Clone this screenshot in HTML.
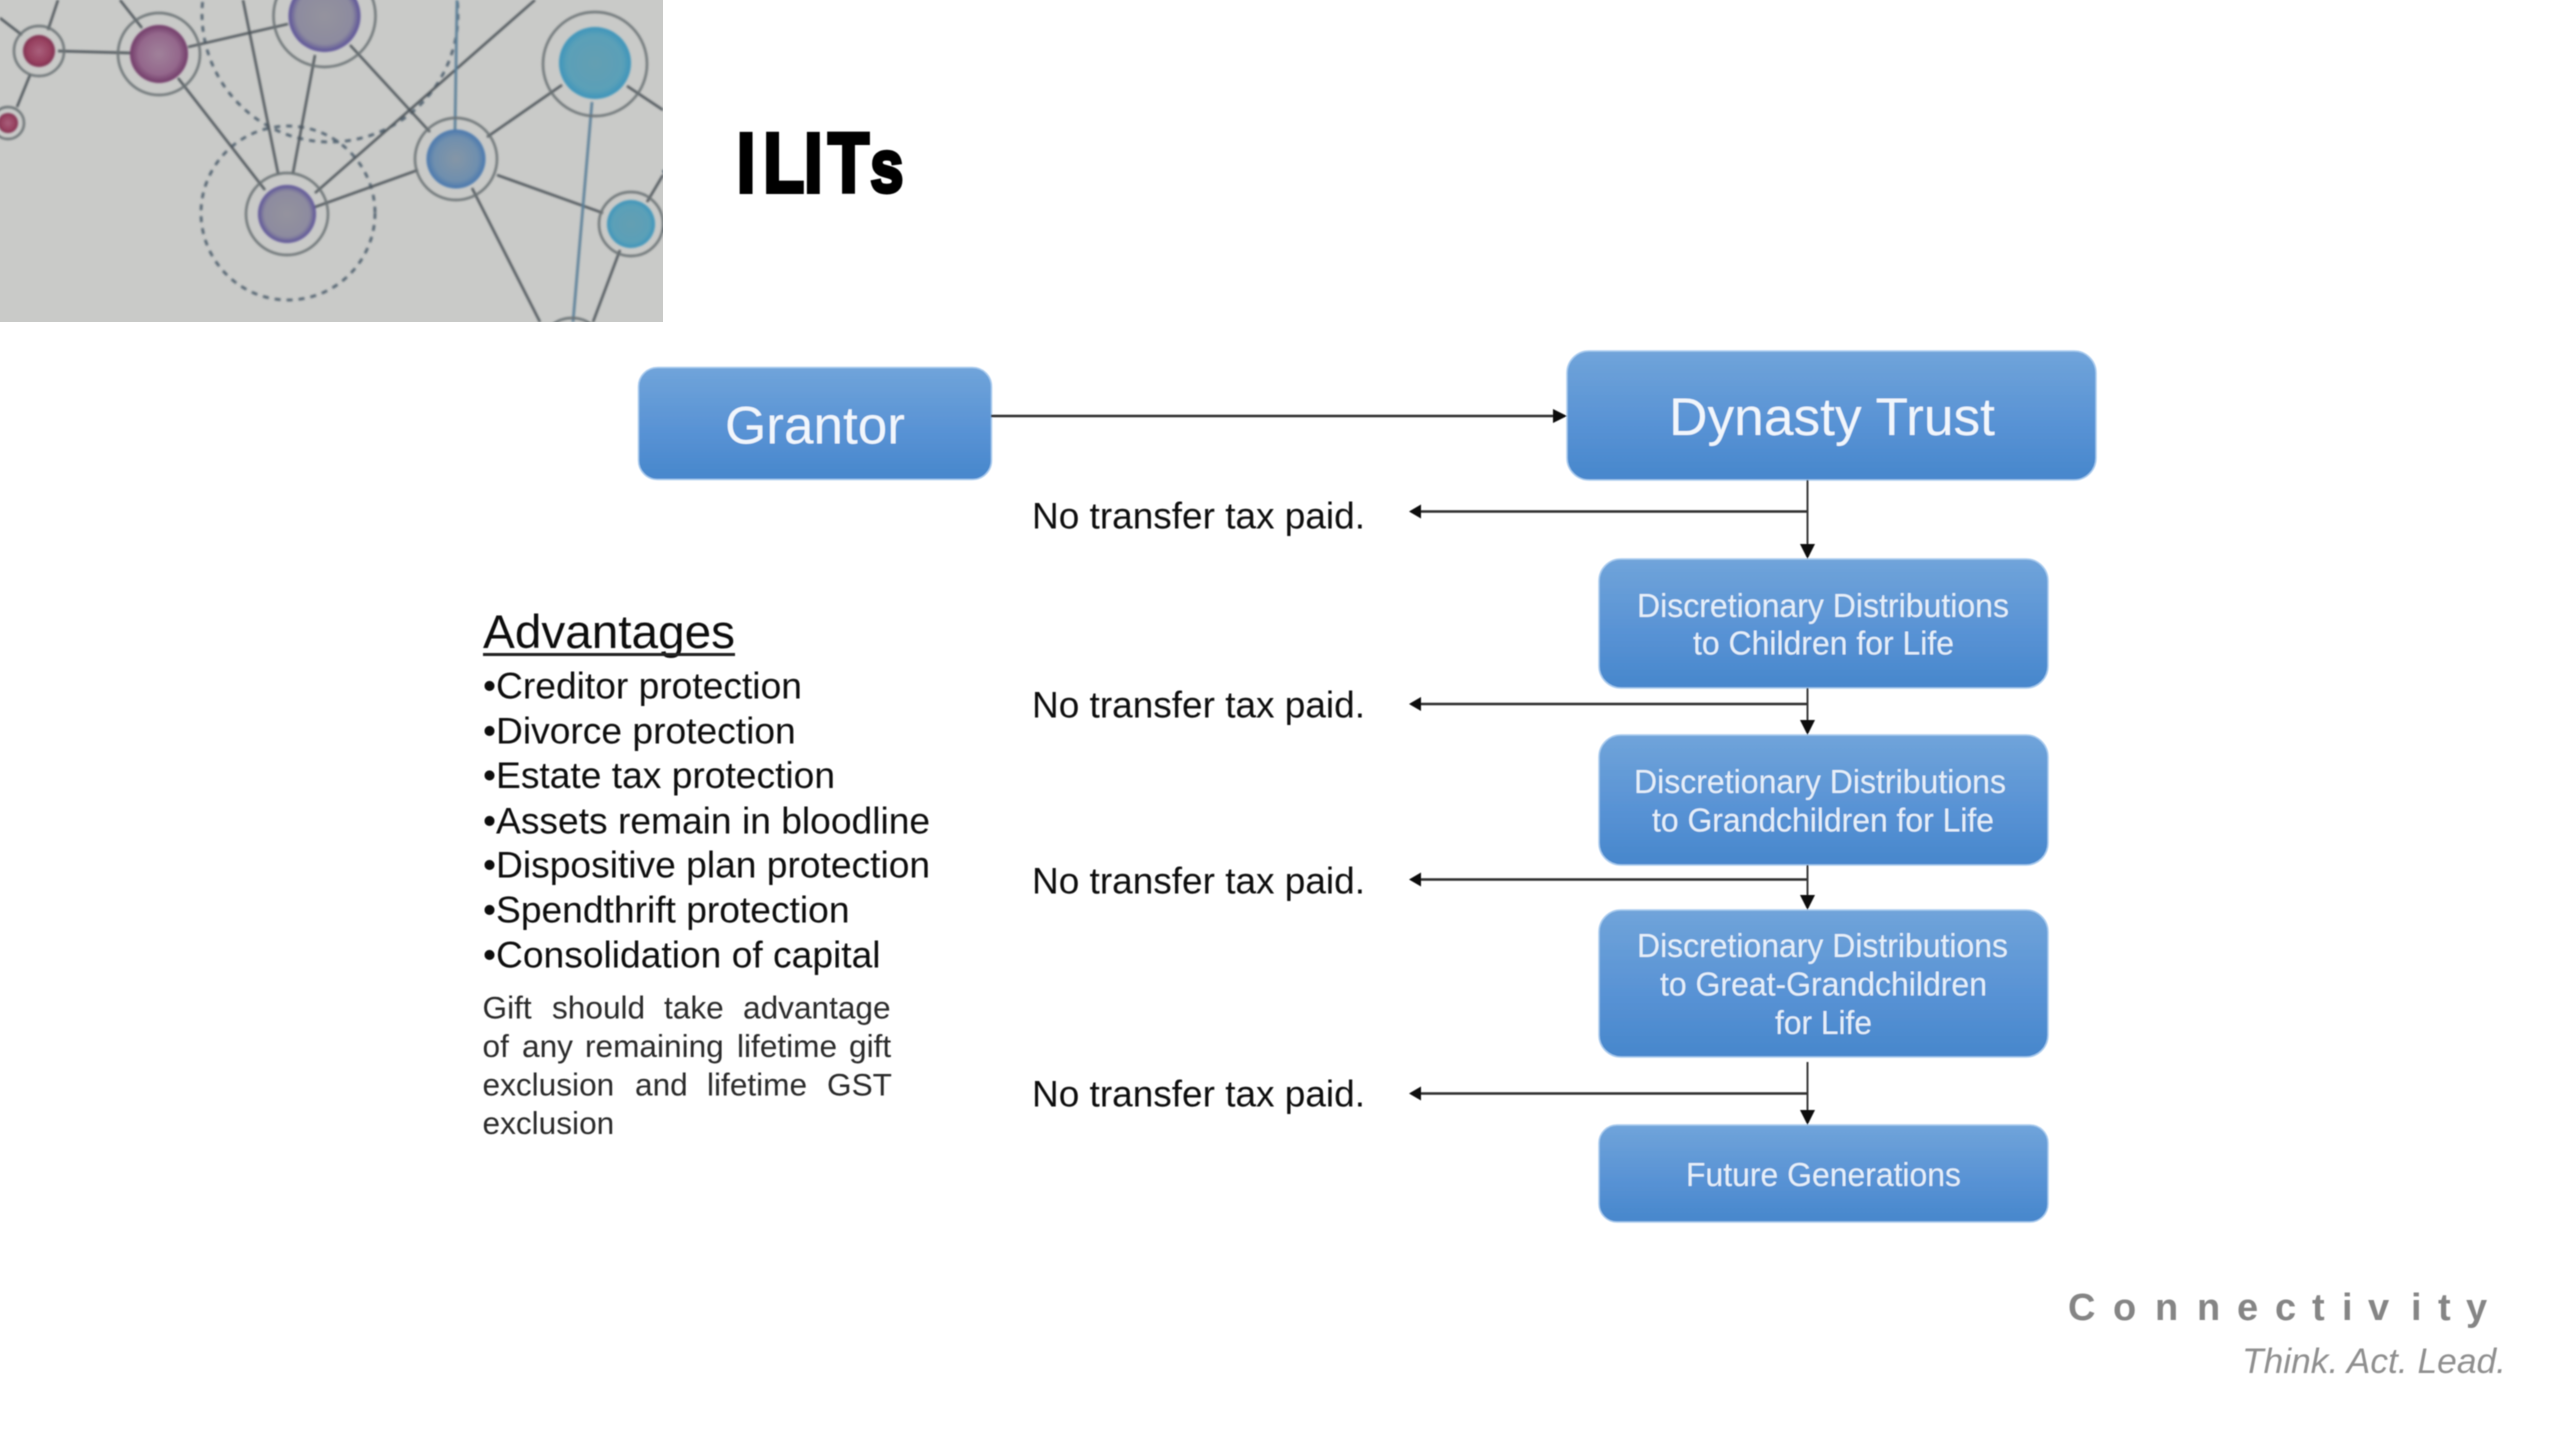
<!DOCTYPE html>
<html lang="en">
<head>
<meta charset="utf-8">
<title>ILITs</title>
<style>
html,body{margin:0;padding:0;background:#fff;width:2560px;height:1440px;overflow:hidden}
svg{display:block}
text{font-family:"Liberation Sans",Arial,sans-serif}
.box{fill:url(#bg);stroke:#a9cbee;stroke-width:1.5}
.w{fill:#e6eff9;font-size:33.5px}
.k{fill:#0c0c0c;font-size:37.2px}
.g{fill:#2a2a2a;font-size:31.6px}
.n{fill:#0c0c0c;font-size:36.8px}
.l{stroke:#2e2e2e;stroke-width:2.6;fill:none}
.v{stroke:#3a3a3a;stroke-width:2;fill:none}
.a{fill:#0a0a0a}
.c1{stroke:#4d545a;stroke-width:2.4;fill:none}
.c2{stroke:#5a7f98;stroke-width:2.6;fill:none}
.r{stroke:#6c7376;stroke-width:2.4;fill:none}
.d{stroke:#566673;stroke-width:2.8;fill:none;stroke-dasharray:6 6}
</style>
</head>
<body>
<svg xmlns="http://www.w3.org/2000/svg" width="2560" height="1440" viewBox="0 0 2560 1440">
<defs>
<linearGradient id="bg" x1="0" y1="0" x2="0" y2="1">
<stop offset="0" stop-color="#70a4da"/><stop offset="0.55" stop-color="#5993d5"/><stop offset="1" stop-color="#4787cc"/>
</linearGradient>
<radialGradient id="red"><stop offset="0" stop-color="#a9607c"/><stop offset="0.75" stop-color="#963f5e"/><stop offset="1" stop-color="#7d3050"/></radialGradient>
<radialGradient id="mauve"><stop offset="0" stop-color="#a0819a"/><stop offset="0.7" stop-color="#94688c"/><stop offset="1" stop-color="#713a68"/></radialGradient>
<radialGradient id="pur"><stop offset="0" stop-color="#94939e"/><stop offset="0.78" stop-color="#8d8b9f"/><stop offset="1" stop-color="#5a5098"/></radialGradient>
<radialGradient id="teal"><stop offset="0" stop-color="#649fb2"/><stop offset="0.78" stop-color="#5aa0b8"/><stop offset="1" stop-color="#3c94bb"/></radialGradient>
<radialGradient id="blue"><stop offset="0" stop-color="#8596a6"/><stop offset="0.75" stop-color="#6f8fae"/><stop offset="1" stop-color="#4877ae"/></radialGradient>
<clipPath id="pic"><rect x="0" y="0" width="663" height="322"/></clipPath>
<filter id="b1" x="-5%" y="-5%" width="110%" height="110%"><feGaussianBlur stdDeviation="1.1"/></filter>
<filter id="b2" x="-5%" y="-5%" width="110%" height="110%"><feGaussianBlur stdDeviation="0.55"/></filter>
</defs>

<!-- network picture -->
<g clip-path="url(#pic)">
<rect x="0" y="0" width="663" height="322" fill="#c9cac8"/>
<g filter="url(#b1)">
<circle class="d" cx="330" cy="14" r="128"/>
<circle class="d" cx="288" cy="213" r="87"/>
<path class="d" d="M663 170A60 60 0 0 1 663 232"/>
<path class="c1" d="M58 0L48 30M0 18L22 35M30 75L17 107M58 51L131 53M120 0L142 28M188 47L288 24M178 78L265 190M243 0L278 173M315 55L293 173M350 45L430 132M315 193L535 0M315 207L418 170M487 137L562 85M627 86L663 110M497 175L603 213M472 188L540 322M620 250L593 322M647 202L663 175"/>
<path class="c2" d="M457 0L455 130M592 102L573 322"/>
<circle class="r" cx="39" cy="51" r="25"/><circle cx="39" cy="51" r="16" fill="url(#red)"/>
<circle class="r" cx="8" cy="123" r="16" stroke-width="1.6"/><circle cx="8" cy="123" r="10" fill="url(#red)"/>
<circle class="r" cx="159" cy="54" r="41"/><circle cx="159" cy="54" r="29" fill="url(#mauve)"/>
<circle class="r" cx="324.500" cy="16" r="51"/><circle cx="324.500" cy="16" r="36" fill="url(#pur)"/>
<circle class="r" cx="595" cy="64" r="52"/><circle cx="595" cy="63" r="36" fill="url(#teal)"/>
<circle class="r" cx="456" cy="159" r="41"/><circle cx="456" cy="159" r="29.500" fill="url(#blue)"/>
<circle class="r" cx="287" cy="214" r="41"/><circle cx="287" cy="214" r="29" fill="url(#pur)"/>
<circle class="r" cx="631" cy="224" r="32"/><circle cx="631" cy="224" r="24" fill="url(#teal)"/>
<circle class="r" cx="572" cy="350" r="32"/>
</g>
</g>

<g filter="url(#b2)">
<!-- title -->
<text transform="scale(.8,1)" y="192" font-size="84" font-weight="700" fill="#000" stroke="#000" stroke-width="4"><tspan x="921 954 1005 1035">ILIT</tspan><tspan x="1088" font-size="74">s</tspan></text>

<!-- boxes -->
<rect class="box" x="638.500" y="367.500" width="353" height="112" rx="19"/>
<rect class="box" x="1567" y="351" width="529" height="129" rx="22"/>
<rect class="box" x="1599" y="559" width="449" height="129" rx="22"/>
<rect class="box" x="1599" y="735" width="449" height="130" rx="22"/>
<rect class="box" x="1599" y="910" width="449" height="147" rx="22"/>
<rect class="box" x="1599" y="1125" width="449" height="97" rx="18"/>

<!-- connectors -->
<path class="l" d="M991 416H1555"/>
<polygon class="a" points="1567,416 1553,409 1553,423"/>

<path class="v" d="M1807.500 480V546"/>
<polygon class="a" points="1807.500,559 1800,544 1815,544"/>
<path class="l" d="M1807 511.500H1419"/>
<polygon class="a" points="1409,511.500 1421,504.500 1421,518.500"/>

<path class="v" d="M1807.500 688V722"/>
<polygon class="a" points="1807.500,735 1800,720 1815,720"/>
<path class="l" d="M1807 704H1419"/>
<polygon class="a" points="1409,704 1421,697 1421,711"/>

<path class="v" d="M1807.500 865V897"/>
<polygon class="a" points="1807.500,910 1800,895 1815,895"/>
<path class="l" d="M1807 879.500H1419" stroke="#555"/>
<polygon class="a" points="1409,879.500 1421,872.500 1421,886.500"/>

<path class="v" d="M1807.500 1062V1112"/>
<polygon class="a" points="1807.500,1125 1800,1110 1815,1110"/>
<path class="l" d="M1807 1093.500H1419"/>
<polygon class="a" points="1409,1093.500 1421,1086.500 1421,1100.500"/>

<!-- box labels -->
<text x="725" y="443.500" font-size="53" fill="#f1f6fc" textLength="180" lengthAdjust="spacingAndGlyphs">Grantor</text>
<text x="1669" y="435" font-size="52.500" fill="#f1f6fc" textLength="326" lengthAdjust="spacingAndGlyphs">Dynasty Trust</text>

<text class="w" x="1637" y="617" textLength="372" lengthAdjust="spacingAndGlyphs">Discretionary Distributions</text>
<text class="w" x="1693" y="654.500" textLength="261" lengthAdjust="spacingAndGlyphs">to Children for Life</text>

<text class="w" x="1634" y="793" textLength="372" lengthAdjust="spacingAndGlyphs">Discretionary Distributions</text>
<text class="w" x="1652" y="831.500" textLength="342" lengthAdjust="spacingAndGlyphs">to Grandchildren for Life</text>

<text class="w" x="1637" y="957" textLength="371" lengthAdjust="spacingAndGlyphs">Discretionary Distributions</text>
<text class="w" x="1660" y="995.500" textLength="327" lengthAdjust="spacingAndGlyphs">to Great-Grandchildren</text>
<text class="w" x="1775" y="1034" textLength="97" lengthAdjust="spacingAndGlyphs">for Life</text>

<text class="w" x="1686" y="1186" textLength="275" lengthAdjust="spacingAndGlyphs">Future Generations</text>

<!-- tax labels -->
<text class="n" x="1032" y="528.500" textLength="333" lengthAdjust="spacingAndGlyphs">No transfer tax paid.</text>
<text class="n" x="1032" y="717.500" textLength="333" lengthAdjust="spacingAndGlyphs">No transfer tax paid.</text>
<text class="n" x="1032" y="893.500" textLength="333" lengthAdjust="spacingAndGlyphs">No transfer tax paid.</text>
<text class="n" x="1032" y="1106.500" textLength="333" lengthAdjust="spacingAndGlyphs">No transfer tax paid.</text>

<!-- advantages -->
<text x="483" y="648" font-size="47.700" fill="#111" textLength="252" lengthAdjust="spacingAndGlyphs">Advantages</text>
<rect x="483" y="653" width="252" height="3" fill="#222"/>
<text class="k" x="483" y="698.500">•Creditor protection</text>
<text class="k" x="483" y="743.500">•Divorce protection</text>
<text class="k" x="483" y="788">•Estate tax protection</text>
<text class="k" x="483" y="833.500">•Assets remain in bloodline</text>
<text class="k" x="483" y="877.500">•Dispositive plan protection</text>
<text class="k" x="483" y="922.500">•Spendthrift protection</text>
<text class="k" x="483" y="967.500">•Consolidation of capital</text>

<text class="g" y="1018.500"><tspan x="482.500">Gift</tspan> <tspan x="552">should</tspan> <tspan x="664">take</tspan> <tspan x="743">advantage</tspan></text>
<text class="g" y="1057"><tspan x="482.500">of</tspan> <tspan x="522">any</tspan> <tspan x="585">remaining</tspan> <tspan x="737">lifetime</tspan> <tspan x="849">gift</tspan></text>
<text class="g" y="1095.500"><tspan x="482.500">exclusion</tspan> <tspan x="635">and</tspan> <tspan x="707">lifetime</tspan> <tspan x="827">GST</tspan></text>
<text class="g" y="1134"><tspan x="482.500">exclusion</tspan></text>

<!-- logo -->
<text y="1320" font-size="38" font-weight="700" fill="#858585" x="2068 2113 2155 2197 2237 2275 2312 2342 2368 2411 2438 2466">Connectivity</text>
<text x="2242" y="1373" font-size="35" font-style="italic" fill="#8f8f8f" textLength="264" lengthAdjust="spacingAndGlyphs">Think. Act. Lead.</text>
</g>
</svg>
</body>
</html>
